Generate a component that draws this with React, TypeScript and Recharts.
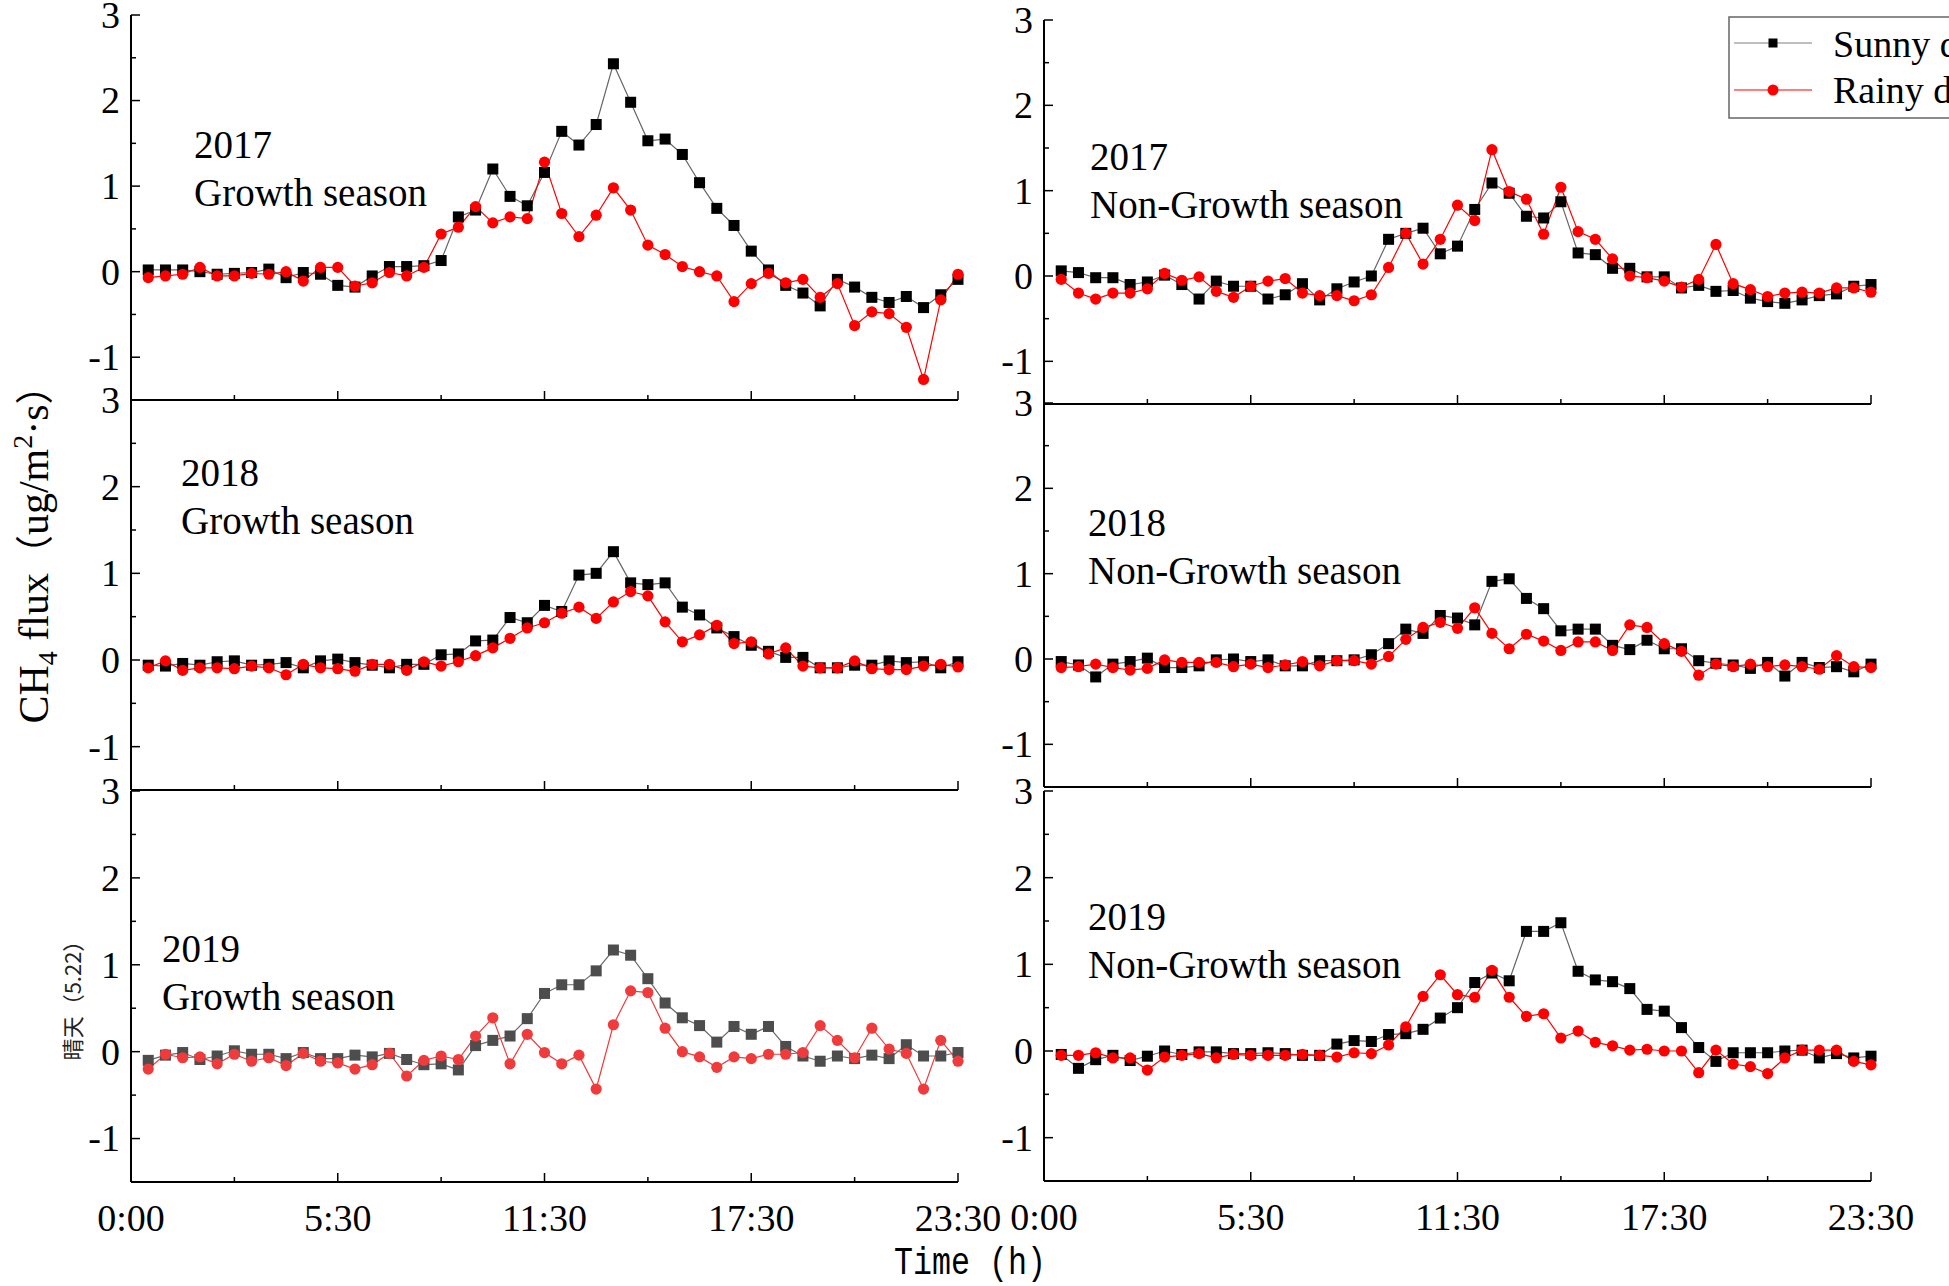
import React from 'react';
import { LineChart, Line, XAxis, YAxis } from 'recharts';

const FONT = "'Liberation Serif', 'Times New Roman', serif";

// half-hour sampling times (categories)
const times = [
  '0:00', '0:30', '1:00', '1:30', '2:00', '2:30', '3:00', '3:30', '4:00', '4:30', '5:00', '5:30',
  '6:00', '6:30', '7:00', '7:30', '8:00', '8:30', '9:00', '9:30', '10:00', '10:30', '11:00', '11:30',
  '12:00', '12:30', '13:00', '13:30', '14:00', '14:30', '15:00', '15:30', '16:00', '16:30', '17:00', '17:30',
  '18:00', '18:30', '19:00', '19:30', '20:00', '20:30', '21:00', '21:30', '22:00', '22:30', '23:00', '23:30',
];

const xAllTicks = [0, 6, 12, 18, 24, 30, 36, 42, 48];
const xMajorTicks = [0, 12, 24, 36, 48];
const xTickLabels = ['0:00', '5:30', '11:30', '17:30', '23:30'];
const yAllTicks = [-1, -0.5, 0, 0.5, 1, 1.5, 2, 2.5, 3];

// 2017 growth season
const sunnyGrowth2017 = [0.02, 0.02, 0.02, 0.0, -0.03, -0.02, -0.01, 0.03, -0.07, -0.01, -0.03, -0.16, -0.18, -0.05, 0.06, 0.06, 0.07, 0.13, 0.64, 0.72, 1.2, 0.88, 0.77, 1.16, 1.64, 1.48, 1.72, 2.43, 1.98, 1.53, 1.55, 1.37, 1.04, 0.74, 0.54, 0.24, 0.02, -0.16, -0.25, -0.4, -0.09, -0.18, -0.3, -0.36, -0.29, -0.42, -0.27, -0.09];
const rainyGrowth2017 = [-0.07, -0.05, -0.03, 0.05, -0.05, -0.05, -0.02, -0.03, 0.0, -0.11, 0.05, 0.05, -0.17, -0.13, -0.01, -0.05, 0.05, 0.44, 0.52, 0.76, 0.57, 0.64, 0.62, 1.28, 0.68, 0.41, 0.66, 0.98, 0.72, 0.31, 0.2, 0.06, 0.0, -0.05, -0.35, -0.14, -0.02, -0.13, -0.09, -0.3, -0.14, -0.63, -0.47, -0.49, -0.65, -1.26, -0.33, -0.03];
// 2017 non-growth season
const sunnyNonGrowth2017 = [0.06, 0.04, -0.02, -0.02, -0.1, -0.07, 0.01, -0.1, -0.27, -0.06, -0.12, -0.12, -0.27, -0.22, -0.09, -0.28, -0.15, -0.07, 0.0, 0.43, 0.5, 0.56, 0.26, 0.35, 0.78, 1.09, 0.97, 0.7, 0.68, 0.87, 0.27, 0.25, 0.09, 0.09, -0.01, -0.01, -0.14, -0.11, -0.18, -0.17, -0.26, -0.3, -0.32, -0.28, -0.23, -0.21, -0.12, -0.1];
const rainyNonGrowth2017 = [-0.04, -0.2, -0.27, -0.2, -0.2, -0.15, 0.03, -0.05, -0.01, -0.18, -0.25, -0.12, -0.06, -0.03, -0.2, -0.23, -0.23, -0.29, -0.22, 0.1, 0.5, 0.14, 0.43, 0.83, 0.65, 1.48, 0.99, 0.9, 0.49, 1.04, 0.52, 0.43, 0.2, 0.0, -0.02, -0.06, -0.13, -0.04, 0.37, -0.09, -0.16, -0.24, -0.2, -0.19, -0.2, -0.14, -0.14, -0.19];
// 2018 growth season
const sunnyGrowth2018 = [-0.06, -0.07, -0.04, -0.06, -0.02, -0.01, -0.06, -0.05, -0.03, -0.09, -0.01, 0.01, -0.03, -0.06, -0.09, -0.05, -0.05, 0.06, 0.07, 0.22, 0.23, 0.49, 0.43, 0.63, 0.56, 0.98, 1.0, 1.25, 0.89, 0.87, 0.89, 0.61, 0.52, 0.37, 0.27, 0.17, 0.1, 0.03, 0.03, -0.09, -0.09, -0.06, -0.06, -0.01, -0.03, -0.02, -0.09, -0.02];
const rainyGrowth2018 = [-0.09, -0.01, -0.12, -0.09, -0.09, -0.1, -0.07, -0.09, -0.17, -0.05, -0.09, -0.1, -0.13, -0.05, -0.05, -0.12, -0.02, -0.07, -0.02, 0.05, 0.14, 0.25, 0.37, 0.43, 0.54, 0.61, 0.48, 0.67, 0.79, 0.74, 0.44, 0.21, 0.29, 0.4, 0.19, 0.21, 0.07, 0.14, -0.07, -0.09, -0.09, -0.01, -0.1, -0.11, -0.11, -0.07, -0.05, -0.08];
// 2018 non-growth season
const sunnyNonGrowth2018 = [-0.03, -0.07, -0.21, -0.06, -0.03, 0.01, -0.1, -0.1, -0.08, -0.01, 0.0, -0.03, -0.01, -0.08, -0.08, -0.02, -0.02, -0.01, 0.05, 0.18, 0.35, 0.3, 0.51, 0.48, 0.4, 0.91, 0.94, 0.71, 0.59, 0.33, 0.35, 0.35, 0.16, 0.11, 0.22, 0.12, 0.12, -0.02, -0.05, -0.07, -0.11, -0.04, -0.2, -0.04, -0.1, -0.09, -0.15, -0.06];
const rainyNonGrowth2018 = [-0.1, -0.09, -0.06, -0.1, -0.13, -0.11, -0.01, -0.04, -0.04, -0.04, -0.09, -0.06, -0.1, -0.07, -0.03, -0.08, -0.02, -0.02, -0.06, 0.03, 0.23, 0.37, 0.43, 0.36, 0.6, 0.3, 0.12, 0.29, 0.21, 0.1, 0.2, 0.2, 0.1, 0.4, 0.37, 0.18, 0.09, -0.19, -0.06, -0.09, -0.06, -0.09, -0.07, -0.09, -0.12, 0.04, -0.09, -0.1];
// 2019 growth season
const sunnyGrowth2019 = [-0.1, -0.04, -0.01, -0.09, -0.05, 0.01, -0.03, -0.03, -0.08, -0.01, -0.08, -0.08, -0.04, -0.06, -0.02, -0.09, -0.15, -0.14, -0.21, 0.07, 0.13, 0.18, 0.38, 0.67, 0.77, 0.77, 0.93, 1.17, 1.11, 0.84, 0.56, 0.39, 0.3, 0.11, 0.29, 0.2, 0.29, 0.06, -0.05, -0.11, -0.05, -0.08, -0.04, -0.08, 0.08, -0.05, -0.05, -0.01];
const rainyGrowth2019 = [-0.2, -0.03, -0.07, -0.06, -0.14, -0.03, -0.11, -0.07, -0.16, -0.02, -0.11, -0.13, -0.2, -0.15, -0.02, -0.28, -0.1, -0.05, -0.09, 0.18, 0.39, -0.14, 0.2, -0.01, -0.14, -0.04, -0.43, 0.31, 0.7, 0.68, 0.27, 0.0, -0.06, -0.18, -0.06, -0.08, -0.03, -0.03, -0.01, 0.3, 0.13, -0.07, 0.27, 0.03, -0.02, -0.43, 0.13, -0.11];
// 2019 non-growth season
const sunnyNonGrowth2019 = [-0.04, -0.2, -0.1, -0.05, -0.11, -0.06, 0.0, -0.04, -0.01, -0.01, -0.03, -0.03, -0.02, -0.03, -0.05, -0.05, 0.08, 0.12, 0.11, 0.19, 0.2, 0.25, 0.38, 0.5, 0.79, 0.9, 0.81, 1.38, 1.38, 1.48, 0.92, 0.82, 0.8, 0.72, 0.48, 0.46, 0.27, 0.04, -0.12, -0.02, -0.02, -0.02, 0.0, 0.01, -0.08, -0.03, -0.08, -0.06];
const rainyNonGrowth2019 = [-0.05, -0.05, -0.02, -0.08, -0.08, -0.22, -0.07, -0.05, -0.03, -0.08, -0.04, -0.05, -0.05, -0.05, -0.04, -0.05, -0.07, -0.02, -0.03, 0.07, 0.28, 0.63, 0.88, 0.65, 0.62, 0.93, 0.62, 0.4, 0.43, 0.15, 0.23, 0.1, 0.06, 0.01, 0.02, 0.0, 0.0, -0.25, 0.01, -0.15, -0.18, -0.26, -0.08, 0.01, 0.01, 0.01, -0.12, -0.16];

const buildRows = (sunny: number[], rainy: number[]) =>
  times.map((t, i) => ({ time: t, x: i + 1, sunny: sunny[i], rainy: rainy[i] }));

type Panel = {
  id: string;
  year: string;
  season: string;
  sunny: number[];
  rainy: number[];
  px: number; py: number; pw: number; ph: number;
  showX: boolean;
  sq: string; sunLine: string; red: string;
  tx: number; ty: number;
};

const panels: Panel[] = [
  { id: 'tl', year: '2017', season: 'Growth season', sunny: sunnyGrowth2017, rainy: rainyGrowth2017, px: 131, py: 15, pw: 827, ph: 385, showX: false, sq: '#000', sunLine: '#666', red: '#ff0000', tx: 194, ty: 158 },
  { id: 'ml', year: '2018', season: 'Growth season', sunny: sunnyGrowth2018, rainy: rainyGrowth2018, px: 131, py: 400, pw: 827, ph: 390, showX: false, sq: '#000', sunLine: '#666', red: '#ff0000', tx: 181, ty: 486 },
  { id: 'bl', year: '2019', season: 'Growth season', sunny: sunnyGrowth2019, rainy: rainyGrowth2019, px: 131, py: 791, pw: 827, ph: 391, showX: true, sq: '#4d4d4d', sunLine: '#6a6a6a', red: '#ef3b3b', tx: 162, ty: 962 },
  { id: 'tr', year: '2017', season: 'Non-Growth season', sunny: sunnyNonGrowth2017, rainy: rainyNonGrowth2017, px: 1044, py: 20, pw: 827, ph: 384, showX: false, sq: '#000', sunLine: '#666', red: '#ff0000', tx: 1090, ty: 170 },
  { id: 'mr', year: '2018', season: 'Non-Growth season', sunny: sunnyNonGrowth2018, rainy: rainyNonGrowth2018, px: 1044, py: 403, pw: 827, ph: 384, showX: false, sq: '#000', sunLine: '#666', red: '#ff0000', tx: 1088, ty: 536 },
  { id: 'br', year: '2019', season: 'Non-Growth season', sunny: sunnyNonGrowth2019, rainy: rainyNonGrowth2019, px: 1044, py: 791, pw: 827, ph: 390, showX: true, sq: '#000', sunLine: '#666', red: '#ff0000', tx: 1088, ty: 930 },
];

const YW = 120;
const MT = 20;
const MR = 70;
const MB = 50;
const XH = 30;

function YTick(props: any) {
  const { x, y, payload } = props;
  const v = payload.value;
  const major = Number.isInteger(v);
  return (
    <g>
      <line x1={x} y1={y} x2={x + (major ? 9 : 5)} y2={y} stroke="#000" strokeWidth={1.5} />
      {major && (
        <text x={x - 11} y={y} dy="0.34em" textAnchor="end" fontFamily={FONT} fontSize={38} fill="#000">
          {v}
        </text>
      )}
    </g>
  );
}

function XTick(props: any) {
  const { x, y, payload, showLabels } = props;
  const v = payload.value;
  const idx = xMajorTicks.indexOf(v);
  const len = idx >= 0 ? 9 : 5;
  return (
    <g>
      <line x1={x} y1={y} x2={x} y2={y - len} stroke="#000" strokeWidth={1.5} />
      {showLabels && idx >= 0 && (
        <text x={x} y={y + 49} textAnchor="middle" fontFamily={FONT} fontSize={38} fill="#000">
          {xTickLabels[idx]}
        </text>
      )}
    </g>
  );
}

function PanelChart({ p }: { p: Panel }) {
  const data = buildRows(p.sunny, p.rainy);
  const width = YW + p.pw + MR;
  const height = MT + p.ph + MB + XH;
  const squareDot = (d: any) => (
    <rect key={`s${d.index}`} x={d.cx - 5.5} y={d.cy - 5.5} width={11} height={11} fill={p.sq} />
  );
  const circleDot = (d: any) => (
    <circle key={`c${d.index}`} cx={d.cx} cy={d.cy} r={5.6} fill={p.red} />
  );
  return (
    <div style={{ position: 'absolute', left: p.px - YW, top: p.py - MT, width, height }}>
      <LineChart width={width} height={height} data={data} margin={{ top: MT, right: MR, bottom: MB, left: 0 }}>
        <XAxis
          dataKey="x"
          type="number"
          domain={[0, 48]}
          ticks={xAllTicks}
          interval={0}
          height={XH}
          tickSize={0}
          tickMargin={0}
          tickLine={false}
          axisLine={{ stroke: '#000', strokeWidth: 2 }}
          tick={(tp: any) => <XTick {...tp} showLabels={p.showX} />}
        />
        <YAxis
          type="number"
          domain={[-1.5, 3]}
          allowDataOverflow
          ticks={yAllTicks}
          interval={0}
          width={YW}
          tickSize={0}
          tickMargin={0}
          tickLine={false}
          axisLine={{ stroke: '#000', strokeWidth: 2 }}
          tick={(tp: any) => <YTick {...tp} />}
        />
        <Line
          type="linear"
          dataKey="sunny"
          stroke={p.sunLine}
          strokeWidth={1.2}
          dot={squareDot}
          activeDot={false}
          isAnimationActive={false}
        />
        <Line
          type="linear"
          dataKey="rainy"
          stroke={p.red}
          strokeWidth={1.2}
          dot={circleDot}
          activeDot={false}
          isAnimationActive={false}
        />
      </LineChart>
    </div>
  );
}

export default function App() {
  return (
    <div style={{ position: 'relative', width: 1949, height: 1286, overflow: 'hidden', background: '#fff' }}>
      <style>{`body{margin:0;}`}</style>
      {panels.map((p) => (
        <PanelChart key={p.id} p={p} />
      ))}
      <svg
        width={1949}
        height={1286}
        style={{ position: 'absolute', left: 0, top: 0, pointerEvents: 'none' }}
      >
        {panels.map((p) => (
          <g key={`t${p.id}`} fontFamily={FONT} fontSize={39} fill="#000">
            <text x={p.tx} y={p.ty}>{p.year}</text>
            <text x={p.tx} y={p.ty + 48}>{p.season}</text>
          </g>
        ))}
        {/* y-axis title */}
        <text
          transform="translate(48,545) rotate(-90)"
          textAnchor="middle"
          fontFamily={FONT}
          fontSize={42}
          fill="#000"
        >
          CH<tspan fontSize={28} dy={9}>4</tspan>
          <tspan dy={-9}> flux</tspan>
          <tspan fontFamily="'Noto Sans CJK SC', sans-serif" fontSize={38}>（</tspan>
          <tspan>ug/m</tspan>
          <tspan fontSize={28} dy={-16}>2</tspan>
          <tspan dy={16}>·s</tspan>
          <tspan fontFamily="'Noto Sans CJK SC', sans-serif" fontSize={38}>）</tspan>
        </text>
        {/* side note */}
        <text
          transform="translate(81,995) rotate(-90)"
          textAnchor="middle"
          fontFamily="'Noto Sans CJK SC', sans-serif"
          fontSize={22}
          fill="#222"
        >
          晴天（5.22）
        </text>
        {/* x-axis title */}
        <text
          x={970}
          y={1274}
          textAnchor="middle"
          fontFamily="'Liberation Mono', monospace"
          fontSize={38}
          textLength={152}
          lengthAdjust="spacingAndGlyphs"
          fill="#000"
        >
          Time (h)
        </text>
        {/* legend */}
        <g>
          <rect x={1729} y={17} width={300} height={101} fill="#fff" stroke="#666" strokeWidth={1.5} />
          <line x1={1734} y1={43} x2={1812} y2={43} stroke="#aaa" strokeWidth={1.5} />
          <rect x={1768.5} y={38.5} width={9} height={9} fill="#000" />
          <text x={1833} y={57} fontFamily={FONT} fontSize={38} fill="#000">Sunny day</text>
          <line x1={1734} y1={90} x2={1812} y2={90} stroke="#ff0000" strokeWidth={1.2} />
          <circle cx={1773} cy={90} r={5.5} fill="#ff0000" />
          <text x={1833} y={103} fontFamily={FONT} fontSize={38} fill="#000">Rainy day</text>
        </g>
      </svg>
    </div>
  );
}
